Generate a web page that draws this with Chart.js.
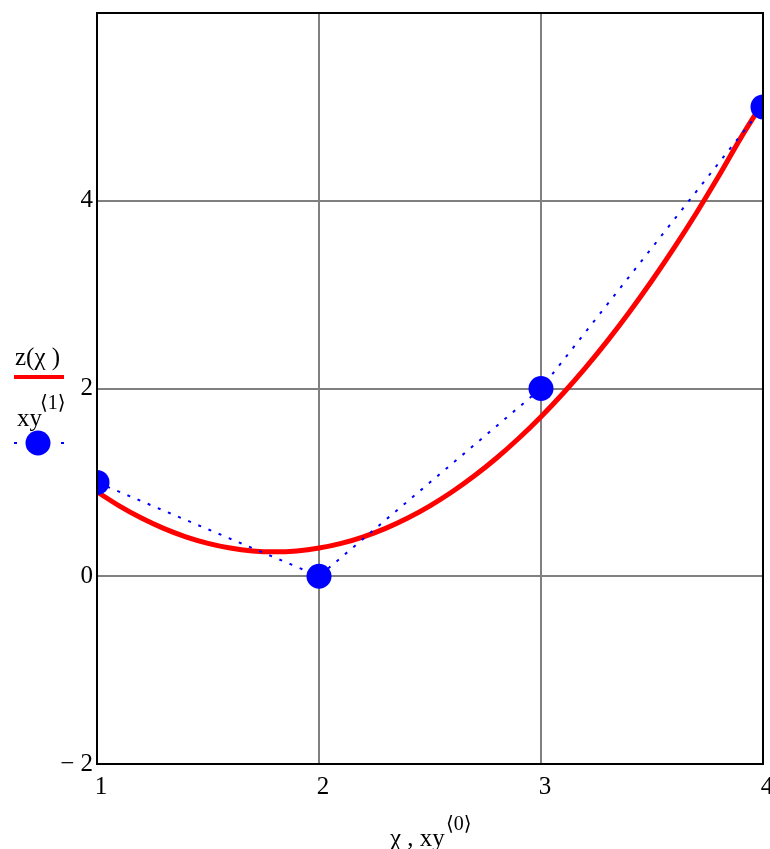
<!DOCTYPE html>
<html>
<head>
<meta charset="utf-8">
<script src="https://cdn.jsdelivr.net/npm/chart.js@4.4.1/dist/chart.umd.min.js"></script>
<style>
  html, body { margin: 0; padding: 0; background: #fff; }
  #wrap { width: 770px; height: 849px; position: relative; }
</style>
</head>
<body>
<div id="wrap"><canvas id="plot"></canvas></div>
<script>
// fitted curve z(chi)
const chiValues = [1.0, 1.1, 1.2, 1.3, 1.4, 1.5, 1.6, 1.7, 1.8, 1.9, 2.0, 2.1, 2.2, 2.3, 2.4, 2.5,
                   2.6, 2.7, 2.8, 2.9, 3.0, 3.1, 3.2, 3.3, 3.4, 3.5, 3.6, 3.7, 3.8, 3.9, 4.0];
const zValues = [0.90, 0.75, 0.62, 0.51, 0.42, 0.35, 0.30, 0.27, 0.26, 0.27, 0.30, 0.35, 0.42, 0.51, 0.62, 0.75,
                 0.90, 1.07, 1.26, 1.47, 1.70, 1.95, 2.22, 2.51, 2.82, 3.15, 3.50, 3.87, 4.26, 4.67, 5.05];

// data matrix columns xy<0>, xy<1>
const xyCol0 = [1, 2, 3, 4];
const xyCol1 = [1, 0, 2, 5];

const xTicks = [1, 2, 3, 4];
const yTicks = [-2, 0, 2, 4];

const serif = '"Liberation Serif", "DejaVu Serif", serif';

// no extra room for labels that run past the plot edges
const noPadding = () => ({ left: 0, top: 0, right: 0, bottom: 0 });

// legend at the left and the x axis title, Mathcad style
const mathcadLabels = {
    id: 'mathcadLabels',
    afterDraw(chart) {
        const ctx = chart.ctx;
        ctx.save();
        ctx.fillStyle = '#000';
        ctx.textBaseline = 'alphabetic';
        ctx.textAlign = 'left';

        // z(chi) with red line
        ctx.font = '25px ' + serif;
        ctx.fillText('z(\u03C7 )', 15, 365);
        ctx.fillStyle = '#ff0000';
        ctx.fillRect(14, 375, 50, 4);

        // xy<1> with dot and dotted line
        ctx.fillStyle = '#000';
        ctx.fillText('xy', 17, 426);
        ctx.font = '20px ' + serif;
        ctx.fillText('\u27E81\u27E9', 40, 409);
        ctx.fillStyle = '#0000ff';
        ctx.fillRect(14, 442, 3, 2);
        ctx.fillRect(61, 442, 3, 2);
        ctx.beginPath();
        ctx.arc(38, 443, 12.5, 0, Math.PI * 2);
        ctx.fill();

        // x axis title
        ctx.fillStyle = '#000';
        ctx.font = '25px ' + serif;
        ctx.fillText('\u03C7 , xy', 390, 846);
        ctx.font = '20px ' + serif;
        ctx.fillText('\u27E80\u27E9', 446, 830);
        ctx.restore();
    }
};

new Chart(document.getElementById('plot'), {
    type: 'scatter',
    data: {
        datasets: [
            {
                label: 'z(\u03C7)',
                data: chiValues.map((x, i) => ({ x: x, y: zValues[i] })),
                showLine: true,
                borderColor: '#ff0000',
                borderWidth: 5,
                pointRadius: 0,
                tension: 0.3,
                fill: false,
                order: 2
            },
            {
                label: 'xy<1>',
                data: xyCol0.map((x, i) => ({ x: x, y: xyCol1[i] })),
                showLine: true,
                borderColor: '#0000ff',
                backgroundColor: '#0000ff',
                borderWidth: 2,
                borderDash: [3, 8],
                pointRadius: 12.5,
                pointBorderWidth: 0,
                tension: 0,
                order: 1
            }
        ]
    },
    options: {
        responsive: true,
        maintainAspectRatio: false,
        animation: false,
        layout: {
            autoPadding: false,
            padding: { top: 13, right: 7, left: 0, bottom: 0 }
        },
        plugins: {
            legend: { display: false },
            tooltip: { enabled: false }
        },
        scales: {
            x: {
                type: 'linear',
                min: 1,
                max: 4,
                afterBuildTicks: (scale) => { scale.ticks = xTicks.map(v => ({ value: v })); },
                afterFit: (scale) => {
                    scale.height = 85;
                    scale.getPadding = noPadding;
                },
                ticks: {
                    color: '#000',
                    font: { family: serif, size: 25 },
                    labelOffset: 4,
                    padding: 8,
                    maxRotation: 0
                },
                grid: { color: '#808080', lineWidth: 2, drawTicks: false },
                border: { color: '#000', width: 2 }
            },
            y: {
                type: 'linear',
                min: -2,
                max: 6,
                afterBuildTicks: (scale) => { scale.ticks = yTicks.map(v => ({ value: v })); },
                afterFit: (scale) => {
                    scale.width = 97;
                    scale.getPadding = noPadding;
                },
                ticks: {
                    color: '#000',
                    font: { family: serif, size: 25 },
                    padding: 4,
                    callback: (v) => v < 0 ? '\u2212 ' + Math.abs(v) : String(v)
                },
                grid: { color: '#808080', lineWidth: 2, drawTicks: false },
                border: { color: '#000', width: 2 }
            }
        }
    },
    plugins: [mathcadLabels, {
        id: 'frame',
        afterDatasetsDraw(chart) {
            const a = chart.chartArea;
            const ctx = chart.ctx;
            ctx.save();
            ctx.strokeStyle = '#000';
            ctx.lineWidth = 2;
            ctx.strokeRect(a.left, a.top, a.right - a.left, a.bottom - a.top);
            ctx.restore();
        }
    }]
});
</script>
</body>
</html>
